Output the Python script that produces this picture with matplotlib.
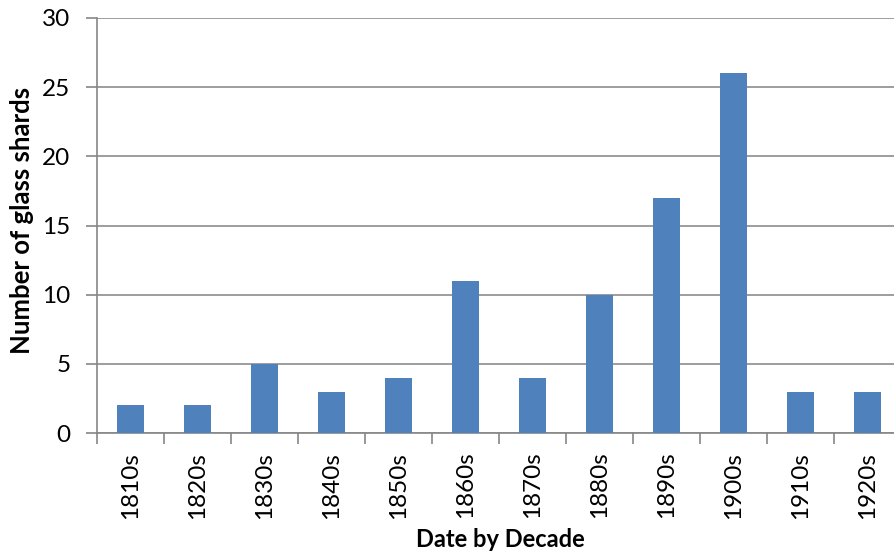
import matplotlib
matplotlib.use("Agg")
import matplotlib.pyplot as plt
import numpy as np

decades = ["1810s", "1820s", "1830s", "1840s", "1850s", "1860s",
           "1870s", "1880s", "1890s", "1900s", "1910s", "1920s"]
counts = [2, 2, 5, 3, 4, 11, 4, 10, 17, 26, 3, 3]
yticks = [0, 5, 10, 15, 20, 25, 30]

plt.rcParams['font.family'] = ['Lato', 'DejaVu Sans']

W, H = 894, 554
fig = plt.figure(figsize=(W/100, H/100), dpi=100)
ax = fig.add_axes([97/W, (H-433)/H, 804/W, 415/H])

x = np.arange(len(decades))
ax.bar(x, counts, width=0.4, color="#4F81BD", zorder=3)

ax.set_xlim(-0.5, len(decades) - 0.5)
ax.set_ylim(0, 30)
ax.set_yticks(yticks)
ax.set_yticklabels([str(v) for v in yticks], fontsize=17.5)
ax.set_xticks(x)
ax.set_xticklabels(decades, rotation=90, fontsize=17.5)
ax.set_xticks(np.arange(-0.5, len(decades) + 0.5, 1), minor=True)
ax.tick_params(axis='x', which='major', length=0, pad=13.5)
ax.tick_params(axis='x', which='minor', length=8, width=1.2, color="#868686")
ax.tick_params(axis='y', length=8, width=1.2, color="#868686", pad=11)

ax.grid(axis='y', color="#8c8c8c", linewidth=1.2, zorder=0)
for s in ['top', 'right']:
    ax.spines[s].set_visible(False)
for s in ['left', 'bottom']:
    ax.spines[s].set_color("#868686")
    ax.spines[s].set_linewidth(1.2)

fig.text(500/W, 1 - 547/H, "Date by Decade", fontsize=17, fontweight='bold',
         ha='center', va='baseline')
fig.text(22/W, 1 - 220/H, "Number of glass shards", fontsize=18.5, fontweight='bold',
         ha='center', va='center', rotation=90)

fig.savefig("out.png", dpi=100)
